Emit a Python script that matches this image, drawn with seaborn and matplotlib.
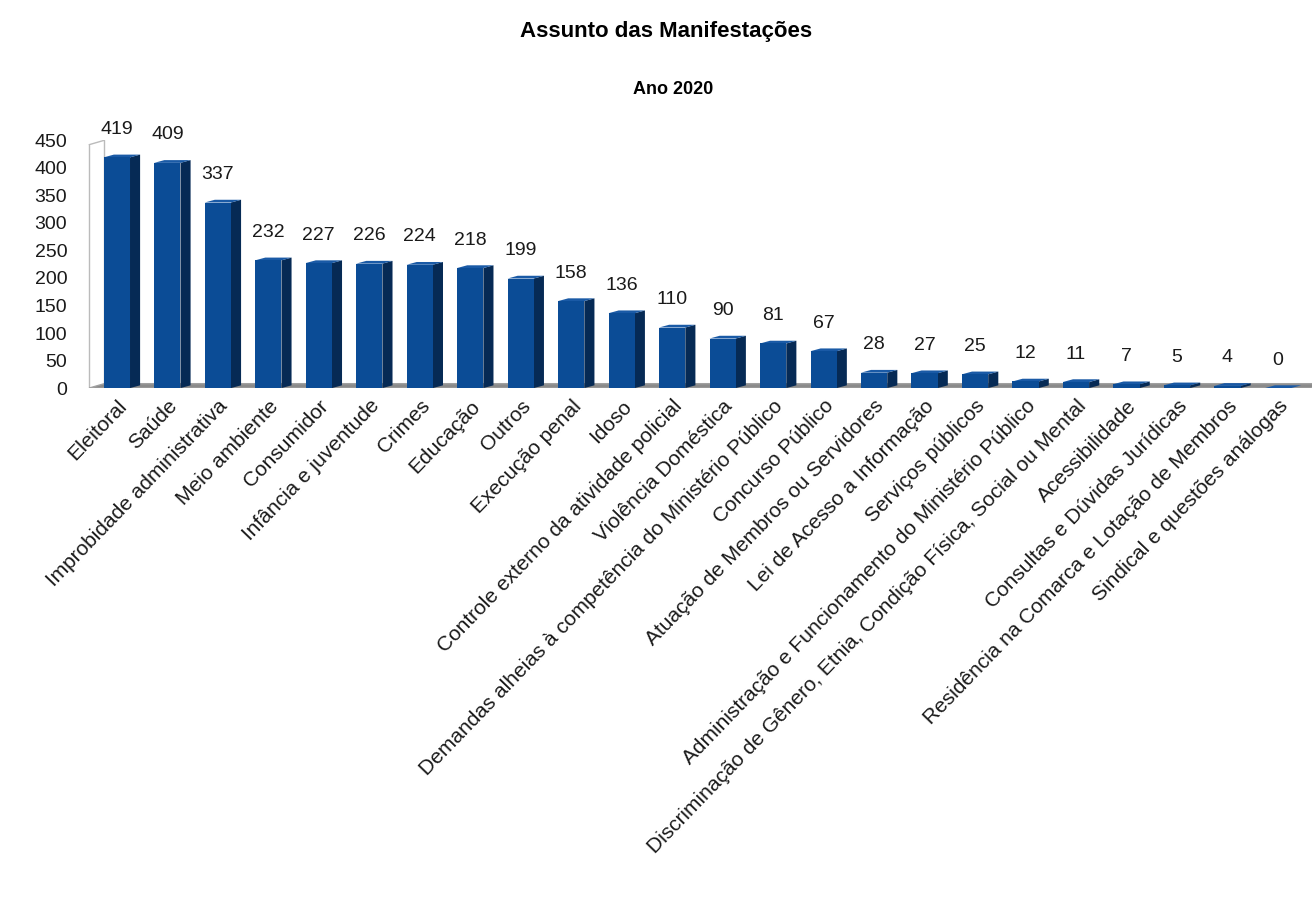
import matplotlib
matplotlib.use("Agg")
import matplotlib.pyplot as plt
from matplotlib.patches import Polygon
import seaborn as sns
import pandas as pd

categories = [
    "Eleitoral", "Saúde", "Improbidade administrativa", "Meio ambiente",
    "Consumidor", "Infância e juventude", "Crimes", "Educação", "Outros",
    "Execução penal", "Idoso", "Controle externo da atividade policial",
    "Violência Doméstica", "Demandas alheias à competência do Ministério Público",
    "Concurso Público", "Atuação de Membros ou Servidores",
    "Lei de Acesso a Informação", "Serviços públicos",
    "Administração e Funcionamento do Ministério Público",
    "Discriminação de Gênero, Etnia, Condição Física, Social ou Mental",
    "Acessibilidade", "Consultas e Dúvidas Jurídicas",
    "Residência na Comarca e Lotação de Membros", "Sindical e questões análogas",
]
values = [419, 409, 337, 232, 227, 226, 224, 218, 199, 158, 136, 110, 90, 81,
          67, 28, 27, 25, 12, 11, 7, 5, 4, 0]
yticks = [0, 50, 100, 150, 200, 250, 300, 350, 400, 450]

sns.set_theme(style="white")
plt.rcParams["font.family"] = ["Liberation Sans", "DejaVu Sans"]

df = pd.DataFrame({"Assunto": categories, "Total": values})

fig = plt.figure(figsize=(13.12, 9.11), dpi=100)
ax = fig.add_axes([0.066, 0.574, 0.935, 0.272])

sns.barplot(data=df, x="Assunto", y="Total", color="#0b4c96",
            edgecolor="#0b4c96", linewidth=0, width=0.52, ax=ax,
            saturation=1, zorder=3)

# pseudo-3D side and top faces derived from the drawn bars
depth_x, depth_y = 0.2, 5
for p in ax.patches:
    x0, w, h = p.get_x(), p.get_width(), p.get_height()
    x1 = x0 + w
    side = Polygon([(x1, 0), (x1 + depth_x, depth_y), (x1 + depth_x, h + depth_y), (x1, h)],
                   closed=True, facecolor="#062a55", edgecolor="none", zorder=2)
    top = Polygon([(x0, h), (x0 + depth_x, h + depth_y), (x1 + depth_x, h + depth_y), (x1, h)],
                  closed=True, facecolor="#1a5aa6", edgecolor="none", zorder=2)
    ax.add_patch(side)
    ax.add_patch(top)

# floor
n = len(categories)
floor = Polygon([(-0.55, 0), (-0.55 + 0.3, 8), (n - 0.35 + 0.3, 8), (n - 0.35, 0)],
                closed=True, facecolor="#8a8a8a", edgecolor="#a0a0a0", zorder=1)
ax.add_patch(floor)
# back wall edge
ax.plot([-0.25, -0.25], [8, 450], color="#bbbbbb", lw=1, zorder=0)
ax.plot([-0.55, -0.55], [0, 442], color="#bbbbbb", lw=1, zorder=0)
ax.plot([-0.55, -0.25], [442, 450], color="#bbbbbb", lw=1, zorder=0)

ax.set_ylim(0, 450)
ax.set_xlim(-0.6, n - 0.3)
ax.set_yticks(yticks)
ax.set_yticklabels([str(t) for t in yticks], fontsize=14, color="#1a1a1a")
ax.tick_params(axis="y", length=0, pad=14)
ax.tick_params(axis="x", length=0, pad=6)
ax.set_xticks(range(n))
ax.set_xticklabels(categories, rotation=46, ha="right",
                   rotation_mode="anchor", fontsize=15, color="#1a1a1a")
ax.set_xlabel("")
ax.set_ylabel("")
for s in ax.spines.values():
    s.set_visible(False)

ax.bar_label(ax.containers[0], labels=[str(v) for v in values],
             padding=14, fontsize=14, clip_on=False, color="#1a1a1a")

fig.text(0.508, 0.965, "Assunto das Manifestações", ha="center", va="center",
         fontsize=16, fontweight="bold", color="black")
fig.text(0.513, 0.902, "Ano 2020", ha="center", va="center",
         fontsize=13, fontweight="bold", color="black")

fig.savefig("out.png", dpi=100, facecolor="white")
